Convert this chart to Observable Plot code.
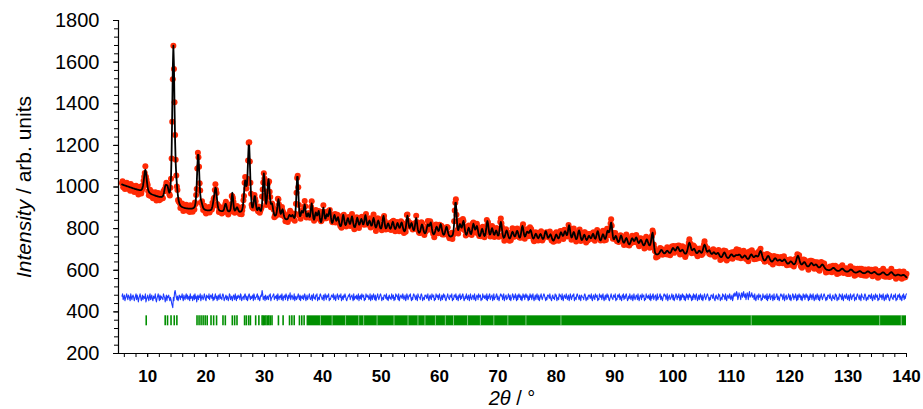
<!DOCTYPE html>
<html><head><meta charset="utf-8">
<script src="https://cdn.jsdelivr.net/npm/d3@7"></script>
<script src="https://cdn.jsdelivr.net/npm/@observablehq/plot@0.6"></script>
<style>
body{margin:0;background:#fff}
#chart svg{font-family:"Liberation Sans",Arial,sans-serif;background:#fff}
</style>
</head><body><div id="chart"></div>
<script>
// ---- data ----
// background knots [2theta, intensity]
const backgroundKnots = [[5.6,1012],[7,998],[9,978],[11,958],[12.6,942],[13.8,925],[15.6,895],[18,888],[20,884],[23,878],[26,870],[29,860],[32,848],[34.5,834],[38,808],[42,799],[46,792],[50,783],[55,771],[60,758],[65,747],[70,738],[75,731],[80,726],[85,719],[90,713],[94,707],[96.5,703],[96.9,670],[100,671],[104,665],[108,653],[112,643],[116,635],[120,620],[124,606],[128,594],[132,584],[136,574],[140,562]];
// peaks [2theta, height above background, FWHM]
const peaks = [[9.6,110,0.55],[13.05,55,0.48],[13.4,45,0.42],[14.4,745,0.45],[14.85,85,0.55],[18.65,275,0.46],[19.2,25,0.42],[21.3,30,0.42],[21.65,110,0.48],[23.35,40,0.42],[24.5,95,0.35],[25.3,25,0.42],[26.7,145,0.48],[27.35,335,0.48],[28.35,85,0.42],[29.05,30,0.42],[29.9,200,0.42],[30.7,175,0.48],[31.3,55,0.42],[32.4,90,0.42],[33.1,45,0.42],[34.3,25,0.42],[34.8,25,0.42],[35.65,230,0.4],[36.4,50,0.42],[36.9,90,0.42],[37.5,50,0.42],[38.1,105,0.42],[38.8,60,0.42],[39.3,70,0.42],[40.1,90,0.42],[40.7,55,0.42],[41.2,85,0.42],[42.0,60,0.48],[42.6,50,0.42],[43.5,65,0.42],[44.3,50,0.48],[45.0,60,0.42],[45.9,55,0.42],[46.6,50,0.48],[47.3,70,0.42],[48.0,45,0.48],[48.7,60,0.42],[49.5,50,0.48],[50.4,75,0.42],[51.2,40,0.48],[52.0,50,0.48],[52.8,45,0.48],[53.5,50,0.48],[54.5,85,0.42],[55.2,50,0.48],[56.0,78,0.42],[57.0,50,0.48],[58.0,50,0.48],[58.5,60,0.42],[59.5,45,0.48],[60.2,60,0.48],[61.2,50,0.48],[62.75,175,0.42],[63.5,60,0.48],[64.1,80,0.48],[65.0,50,0.48],[65.8,70,0.48],[66.4,60,0.48],[67.3,50,0.48],[68.2,90,0.48],[69.0,55,0.48],[69.7,45,0.48],[70.5,90,0.48],[71.5,50,0.55],[72.5,45,0.55],[73.3,50,0.55],[74.2,75,0.48],[75.0,45,0.55],[75.6,55,0.55],[76.5,40,0.55],[77.3,40,0.55],[78.2,55,0.55],[79.0,40,0.55],[80.0,40,0.55],[80.8,50,0.55],[81.5,55,0.55],[82.2,85,0.48],[83.0,55,0.55],[83.9,65,0.55],[84.8,45,0.55],[85.6,40,0.55],[86.3,50,0.55],[87.1,65,0.55],[88.0,50,0.55],[88.8,65,0.55],[89.4,105,0.48],[90.2,45,0.55],[91.1,50,0.55],[92.0,40,0.55],[93.0,40,0.55],[93.7,45,0.55],[94.5,35,0.55],[95.5,40,0.55],[96.5,75,0.48],[98.0,25,0.6],[99.0,20,0.6],[100.0,32,0.6],[100.8,38,0.6],[101.6,25,0.6],[102.8,62,0.6],[103.6,32,0.6],[104.5,25,0.6],[105.4,58,0.6],[106.2,32,0.6],[107.0,25,0.6],[107.7,25,0.6],[108.8,32,0.6],[110.0,25,0.65],[110.8,20,0.65],[111.4,25,0.65],[112.3,25,0.65],[113.4,32,0.65],[114.2,25,0.65],[115.0,52,0.65],[116.3,32,0.65],[117.5,25,0.65],[118.3,20,0.65],[119.1,25,0.65],[120.2,20,0.65],[121.4,52,0.65],[122.5,25,0.65],[123.7,25,0.65],[124.5,20,0.65],[125.6,25,0.7],[127.5,15,0.7],[129.0,15,0.7],[130.5,15,0.7],[132.0,11,0.7],[133.4,13,0.7],[134.5,13,0.7],[136.0,15,0.75],[137.4,20,0.75],[138.6,11,0.75],[139.5,13,0.75]];
// observed-minus-calculated residuals, one character per 0.1 deg from 5.6 deg (base-36 code, 'j' = 0)
const diffRows = [
"kmhjlgikmjhlkigmjhkljgikmhljfikmjgilhkjimfhjligkmhjlhgkijmhfikmjglhkjihmkjfilgkjligjhecajgnpmjhkgilk",
"hkjmigljhkmilhjkgmijkgjlhmikfjlhkjmgiljhjmkhgljkimhjlkimgjhkmikgjlhkmijhlmkgijlhkjgimlhjkgilkhmjgkil",
"jkhmlgijkhlmjhkgilmjhkijlgmkhjjlmhkigjlkpmhjkglihkjhlkmgijklmhjkilgmjhkjlhmigkjlhmkjgliknhjlkhimgjkh",
"ikmjhlgkjilhjmkgilhjkmihjlgkmijhlkmgijhlmkjhilgkmjhljkmgihjlkjmhilgjkmihlkjmgikhljmkhgijlkmhjkligmhj",
"kilhjmgkilhmkjlgihmkjlkhimgjlhkmjhlgikmjhjlmkgijhllkimhjgklijhmkilgjhmkljhmgikljimkhjlgimkhjlkmigjhl",
"mkjhligmkjjhlmkgijhlklijmhgklihmkjlgihmkjlhkmigjlhkmjlhgikmjihlkjmgihlljmhkigljmhkilmjghkimjhklgimjh",
"jlkhmigjlkhmjklgihmjkiljhmgkilmhjklgimhjjlmhkigjlmklhjmgiklhijmkhlgijmlhkjmiglhkmjlhkgimjlhkmjligkhm",
"jlhkmigjlhkmjhlgikmjhjlmkigjhllkimjhgklijhmklgijhmkljhmigkljimkhjlgimkhjlkmgijhlmkjhliglkjjhlmkgijhl",
"klijmhgklihmkjlgihmkjlhkmigjlhkmjlhgikmjihlkjmgihlljmhkigljmhkilmjghkimjhklgimjhjlkhmigjlkhmjklgihmj",
"kiljhmgkilmhjklgimhjjlmhkigjlmklhjmgiklhijmkhlgijmlhkjmiglhkmjlhkgimjlhkmjligkhmjlhkmigjlhkmjhlgikmj",
"hjlmkigjhllkimjhgklijhmklgijhmkljhmigkljimkhjlgimknlkomhjnlkhmnjlokjmhknlhmojklnjlkhmigjlkhmjklgihmj",
"kiljhmgkilmhjklgimhjjlmhkigjlmklhjmgiklhijmkhlgijmlhkjmiglhkmjlhkgimjlhkmjligkhmjlhkmigjlhkmjhlgikmj",
"hjlmkigjhllkimjhgklijhmklgijhmkljhmigkljimkhjlgimkhjlkmgijhlmkjhligmkjjhlmkgijhlklijmhgklihmkjlgihmk",
"jlhkmigjlhkmjlhgikmjihlkjmgihlljmhkigljmhkilm"];
// Bragg reflection positions (isolated ticks) and the dense band of reflections
const reflectionTicks = [9.75,13.0,13.4,14.0,14.55,15.0,18.45,18.8,19.15,19.5,19.85,20.2,20.85,21.3,21.8,22.9,23.3,24.5,24.9,25.3,26.6,26.9,27.3,27.6,28.5,29.05,29.6,29.8,30.0,30.25,30.5,30.75,31.0,31.3,32.4,33.2,34.3,34.7,35.1,36.0,36.4,36.8];
const reflectionBand = [37.3, 140.0];
const reflectionGaps = [39.6,41.6,43.9,46.15,47.0,49.3,52.2,54.6,56.3,57.5,59.3,61.0,62.4,64.8,67.0,69.3,71.7,74.8,80.8,113.4,135.4,139.1];
const xTickLabels = [10,20,30,40,50,60,70,80,90,100,110,120,130,140];
const yTickLabels = [200,400,600,800,1000,1200,1400,1600,1800];

// ---- build the profile ----
function background(x){
  for (let i=1;i<backgroundKnots.length;i++){
    const [x0,y0]=backgroundKnots[i-1],[x1,y1]=backgroundKnots[i];
    if (x<=x1) return y0+(y1-y0)*(x-x0)/(x1-x0);
  }
  return backgroundKnots[backgroundKnots.length-1][1];
}
function pv(x,p,h,w){
  const t=(x-p)/w;
  return h*(0.4/(1+4*t*t)+0.6*Math.exp(-4*Math.LN2*t*t));
}
const code = diffRows.join("");
const pattern = Array.from(code, (ch,i) => {
  const x = Math.round((5.6 + i*0.1)*10)/10;
  let calc = background(x);
  for (const [p,h,w] of peaks) if (Math.abs(x-p) < 12*w) calc += pv(x,p,h,w);
  const diff = (parseInt(ch,36)-19)*5.5;
  return {x, calc, obs: calc+diff, diff};
});
const diffOffset = 470, tickLo = 333, tickHi = 381;
const green = "#008f00";

const chart = Plot.plot({
  width: 923, height: 409,
  marginLeft: 118, marginRight: 17, marginTop: 20, marginBottom: 56,
  x: {domain: [5,140]},
  y: {domain: [200,1800]},
  style: {fontFamily: '"Liberation Sans", Arial, sans-serif', background: "#fff", color: "#000"},
  marks: [
    Plot.rect([reflectionBand], {x1: d=>d[0], x2: d=>d[1], y1: tickLo, y2: tickHi, fill: green}),
    Plot.ruleX(reflectionTicks, {x: d=>d, y1: tickLo, y2: tickHi, stroke: green, strokeWidth: 1.6}),
    Plot.ruleX(reflectionGaps, {x: d=>d, y1: tickLo, y2: tickHi, stroke: "#fff", strokeOpacity: 0.5, strokeWidth: 1}),
    Plot.line(pattern, {x: "x", y: d=>diffOffset+d.diff, stroke: "#1f3cff", strokeWidth: 1.1}),
    Plot.dot(pattern, {x: "x", y: "obs", r: 3, fill: "#ff2a05", stroke: "none"}),
    Plot.line(pattern, {x: "x", y: "calc", stroke: "#000", strokeWidth: 1.8}),
    Plot.ruleY([200], {stroke: "#000", strokeWidth: 1.2}),
    Plot.ruleX([5], {stroke: "#000", strokeWidth: 1.2}),
    Plot.axisY({ticks: d3.range(200,1801,40), tickSize: 4, tickFormat: () => "", label: null}),
    Plot.axisY(yTickLabels, {ticks: yTickLabels, tickSize: 5, tickPadding: 14, tickFormat: d3.format("d"), fontSize: 20, label: null}),
    Plot.axisX({ticks: d3.range(6,141,2), tickSize: 4, tickFormat: () => "", label: null}),
    Plot.axisX(xTickLabels, {ticks: xTickLabels, tickSize: 4, tickPadding: 12, fontSize: 17, fontWeight: "bold", label: null})
  ]
});
document.getElementById("chart").appendChild(chart);

const svg = d3.select(chart);
const yl = svg.append("text").attr("transform","translate(31,187) rotate(-90)")
  .attr("text-anchor","middle").attr("font-size",21).attr("fill","#000");
yl.append("tspan").attr("font-style","italic").text("Intensity");
yl.append("tspan").text(" / arb. units");
const xl = svg.append("text").attr("x",512).attr("y",405)
  .attr("text-anchor","middle").attr("font-size",20).attr("fill","#000");
xl.append("tspan").attr("font-style","italic").text("2θ");
xl.append("tspan").text(" / °");
</script>
</body></html>
